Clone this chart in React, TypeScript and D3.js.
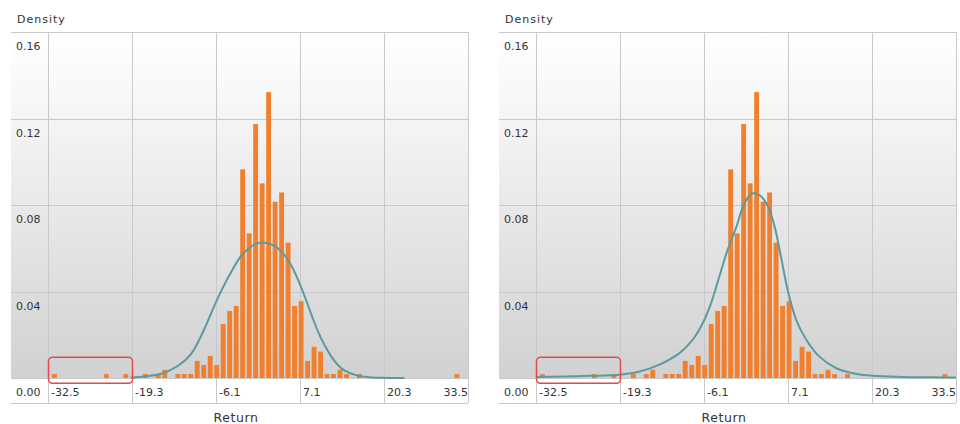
import React from "react";
import * as d3 from "d3";

// ---- data ----
const xTicks = [-32.5, -19.3, -6.1, 7.1, 20.3, 33.5];
const xTickLabels = ["-32.5", "-19.3", "-6.1", "7.1", "20.3", "33.5"];
const yTicks = [0, 0.04, 0.08, 0.12, 0.16];
const yTickLabels = ["0.00", "0.04", "0.08", "0.12", "0.16"];

const binStart = -32.0;
const binWidth = 1.02;
const densities = [
  0.0018, 0, 0, 0, 0, 0, 0, 0, 0.0018, 0, 0, 0.0018, 0, 0, 0.0018, 0, 0.0018, 0.0038, 0,
  0.0018, 0.0018, 0.0018, 0.0079, 0.006, 0.0102, 0.006, 0.025, 0.031, 0.0333, 0.0965,
  0.0669, 0.1174, 0.09, 0.1322, 0.0815, 0.0858, 0.0626, 0.0333, 0.0355, 0.0079, 0.0145,
  0.0122, 0.0018, 0.0018, 0.0038, 0.0018, 0, 0.0018, 0, 0, 0, 0, 0, 0, 0, 0, 0, 0, 0, 0,
  0, 0, 0.0018,
];

const normalCurve: [number, number][] = [
  [-19.5, 0.0002], [-17, 0.0008], [-14.5, 0.0022], [-12, 0.0058], [-10, 0.0112],
  [-8, 0.0222], [-6, 0.0358], [-4, 0.0475], [-2, 0.057], [0, 0.0618], [1, 0.0626],
  [2, 0.0623], [3, 0.0612], [4, 0.059], [5, 0.0555], [6, 0.0505], [7, 0.044],
  [8, 0.0365], [9, 0.0285], [10, 0.021], [11, 0.015], [12, 0.01], [13, 0.0062],
  [14, 0.0036], [16, 0.0012], [18, 0.0004], [20, 0.0001], [23.5, 0],
];

const fittedCurve: [number, number][] = [
  [-32.5, 0.0005], [-28, 0.0007], [-24, 0.001], [-19.4, 0.0015], [-16.2, 0.003],
  [-13.1, 0.0062], [-10.0, 0.0114], [-7.9, 0.0176], [-6.3, 0.0253], [-5.0, 0.0345],
  [-3.7, 0.0468], [-2.4, 0.0592], [-1.0, 0.07], [0.0, 0.079], [1.0, 0.0842],
  [1.8, 0.0855], [2.8, 0.0842], [4.0, 0.079], [5.0, 0.07], [6.0, 0.056], [7.1, 0.04],
  [8.4, 0.0268], [10.0, 0.0176], [12.0, 0.01], [14.7, 0.0045], [17.3, 0.0022],
  [20.4, 0.001], [25, 0.0005], [30, 0.0003], [33.5, 0.0002],
];

const highlightX = [-32.5, -19.3];
const highlightY = [-0.00245, 0.0096];

const FONT = "'DejaVu Sans', Verdana, sans-serif";
const GRID = "#c9c9c9";
const TEXT = "#333";

function Panel({ dx, curve, id }: { dx: number; curve: [number, number][]; id: string }) {
  const x = d3.scaleLinear().domain([-32.5, 33.5]).range([48 + dx, 468 + dx]);
  const y = d3.scaleLinear().domain([0, 0.16]).range([378, 32]);
  const left = 11 + dx;
  const right = 468 + dx;
  const rowBottom = 403;
  const line = d3
    .line<[number, number]>()
    .x((p) => x(p[0]))
    .y((p) => y(p[1]))
    .curve(d3.curveCatmullRom.alpha(0.5));
  const bw = x(binWidth) - x(0);
  return (
    <g>
      <defs>
        <linearGradient id={id} x1="0" y1="0" x2="0" y2="1">
          <stop offset="0" stopColor="#ffffff" />
          <stop offset="0.25" stopColor="#f5f5f5" />
          <stop offset="1" stopColor="#d1d1d1" />
        </linearGradient>
      </defs>
      <rect x={left} y={y(0.16)} width={right - left} height={y(0) - y(0.16)} fill={`url(#${id})`} />
      {yTicks.map((t) => (
        <line key={"h" + t} x1={left} x2={right} y1={Math.round(y(t)) + 0.5} y2={Math.round(y(t)) + 0.5} stroke={GRID} strokeWidth={1} />
      ))}
      <line x1={left} x2={right} y1={rowBottom + 0.5} y2={rowBottom + 0.5} stroke={GRID} strokeWidth={1} />
      {xTicks.map((t) => (
        <line key={"v" + t} x1={Math.round(x(t)) + 0.5} x2={Math.round(x(t)) + 0.5} y1={y(0.16)} y2={rowBottom} stroke={GRID} strokeWidth={1} />
      ))}
      {densities.map((d, i) =>
        d > 0 ? (
          <rect
            key={"b" + i}
            x={x(binStart + i * binWidth) + 0.8}
            y={y(d)}
            width={bw - 1.6}
            height={y(0) - y(d)}
            fill="#f0802f"
          />
        ) : null
      )}
      <path d={line(curve) || ""} fill="none" stroke="#5b9aa0" strokeWidth={2} />
      <rect
        x={x(highlightX[0]) + 0.5}
        y={y(highlightY[1])}
        width={x(highlightX[1]) - x(highlightX[0])}
        height={y(highlightY[0]) - y(highlightY[1])}
        rx={4}
        fill="none"
        stroke="#e04a4a"
        strokeWidth={1.5}
      />
      {yTicks.map((t, i) => (
        <text key={"yl" + t} x={16 + dx} y={y(t) + 18} fontSize={11} fontFamily={FONT} fill={TEXT}>
          {yTickLabels[i]}
        </text>
      ))}
      {xTicks.map((t, i) => (
        <text
          key={"xl" + t}
          x={i === xTicks.length - 1 ? x(t) : x(t) + 3}
          y={396}
          fontSize={11}
          fontFamily={FONT}
          fill={TEXT}
          textAnchor={i === xTicks.length - 1 ? "end" : "start"}
        >
          {xTickLabels[i]}
        </text>
      ))}
      <text x={17 + dx} y={23} fontSize={11} fontFamily={FONT} fill={TEXT} letterSpacing={1}>
        Density
      </text>
      <text x={236 + dx} y={422} fontSize={12.5} fontFamily={FONT} fill={TEXT} textAnchor="middle" letterSpacing={0.6}>
        Return
      </text>
    </g>
  );
}

export default function App() {
  return (
    <div style={{ position: "fixed", left: 0, top: 0, width: 960, height: 424, background: "#fff" }}>
      <svg width={960} height={424} style={{ display: "block" }}>
        <rect width={960} height={424} fill="#fff" />
        <Panel dx={0} curve={normalCurve} id="g1" />
        <Panel dx={488} curve={fittedCurve} id="g2" />
      </svg>
    </div>
  );
}
